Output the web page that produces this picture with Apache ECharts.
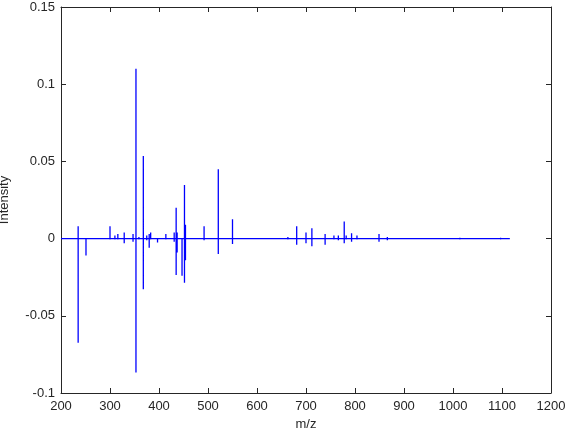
<!DOCTYPE html>
<html>
<head>
<meta charset="utf-8">
<script src="https://cdn.jsdelivr.net/npm/echarts@6/dist/echarts.min.js"></script>
<style>html,body{margin:0;padding:0;background:#fff;}#c{width:566px;height:432px;}</style>
</head>
<body>
<div id="c"></div>
<script>
var xTicks = [200, 300, 400, 500, 600, 700, 800, 900, 1000, 1100, 1200];
var yTicks = [-0.1, -0.05, 0, 0.05, 0.1, 0.15];
var baselineStart = 200;
var baselineEnd = 1116;
var peakMz = [235, 251, 300, 310, 316, 329, 347, 353, 359, 368, 375, 380, 383, 397, 414, 431, 435, 437, 447, 452, 454, 492, 521, 550, 663, 681, 700, 712, 739, 757, 766, 778, 782, 793, 804, 849, 866, 1014, 1097];
var peakPos = [0.008, 0, 0.008, 0.002, 0.003, 0.004, 0.003, 0.110, 0.001, 0.0535, 0.002, 0.003, 0.004, 0, 0.003, 0.004, 0.020, 0.004, 0, 0.0347, 0.009, 0.008, 0.0449, 0.0125, 0.001, 0.008, 0.004, 0.0067, 0.003, 0.002, 0.002, 0.011, 0.002, 0.0035, 0.002, 0.003, 0.001, 0.0005, 0.0005];
var peakNeg = [-0.0675, -0.011, 0, 0, 0, -0.003, -0.002, -0.0868, 0, -0.0328, -0.001, -0.006, 0, -0.0026, 0, -0.002, -0.0236, -0.009, -0.024, -0.0286, -0.014, -0.001, -0.010, -0.0035, 0, -0.004, -0.003, -0.005, -0.004, 0, -0.001, -0.003, 0, -0.002, 0, -0.002, -0.001, -0.0005, -0.0005];

function buildSpikes() {
  var out = [];
  for (var i = 0; i < peakMz.length; i++) {
    var hi = Math.max(peakPos[i], 0.0004);
    var lo = Math.min(peakNeg[i], -0.0004);
    out.push([peakMz[i], hi], [peakMz[i], lo], [peakMz[i], '-']);
  }
  return out;
}
var baseData = [[baselineStart, 0], [baselineEnd, 0]];
var spikeData = buildSpikes();

var fontFam = 'Liberation Sans, Arial, sans-serif';
var txtColor = '#262626';
var axLine = {show: true, onZero: false, lineStyle: {color: '#262626', width: 1}};
var axTick = {show: true, inside: true, length: 5, lineStyle: {color: '#262626'}};
function fmtY(v){ return String(parseFloat(v.toFixed(2))); }
function fmtX(v){ return String(Math.round(v)); }

var chart = echarts.init(document.getElementById('c'), null, {renderer: 'canvas'});
chart.setOption({
  animation: false,
  backgroundColor: '#fff',
  grid: {left: 61, top: 7, right: 15, bottom: 39, containLabel: false, outerBoundsMode: 'none'},
  xAxis: [
    {type: 'value', min: xTicks[0], max: xTicks[xTicks.length-1], interval: 100, position: 'bottom',
     axisLine: axLine, axisTick: axTick, splitLine: {show: false},
     axisLabel: {color: txtColor, fontFamily: fontFam, fontSize: 13, margin: 7, formatter: fmtX},
     name: 'm/z', nameLocation: 'middle', nameGap: 23, nameTextStyle: {color: txtColor, fontFamily: fontFam, fontSize: 13}},
    {type: 'value', min: xTicks[0], max: xTicks[xTicks.length-1], interval: 100, position: 'top',
     axisLine: axLine, axisTick: axTick, splitLine: {show: false}, axisLabel: {show: false}}
  ],
  yAxis: [
    {type: 'value', min: yTicks[0], max: yTicks[yTicks.length-1], interval: 0.05, position: 'left',
     axisLine: axLine, axisTick: axTick, splitLine: {show: false},
     axisLabel: {color: txtColor, fontFamily: fontFam, fontSize: 13, margin: 6, formatter: fmtY},
     name: 'Intensity', nameLocation: 'middle', nameGap: 50, nameRotate: 90, nameTextStyle: {color: txtColor, fontFamily: fontFam, fontSize: 13}},
    {type: 'value', min: yTicks[0], max: yTicks[yTicks.length-1], interval: 0.05, position: 'right',
     axisLine: axLine, axisTick: axTick, splitLine: {show: false}, axisLabel: {show: false}}
  ],
  series: [
    {type: 'line', data: baseData, showSymbol: false, symbol: 'none',
     lineStyle: {color: '#0000ff', width: 1.3}},
    {type: 'line', data: spikeData, showSymbol: false, symbol: 'none', connectNulls: false,
     lineStyle: {color: '#0000ff', width: 1.3}}
  ]
});
</script>
</body>
</html>
